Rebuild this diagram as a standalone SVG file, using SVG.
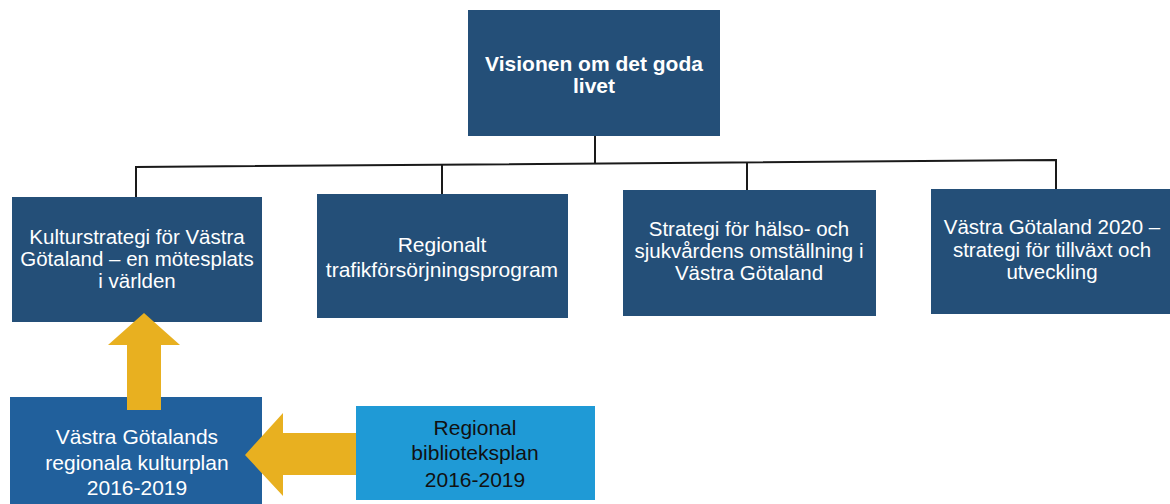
<svg xmlns="http://www.w3.org/2000/svg" width="1170" height="504" viewBox="0 0 1170 504">
<style>
.dark{fill:#244f78}
.mid{fill:#21609c}
.light{fill:#1f9ad6}
.arrow{fill:#e8b020}
.conn{stroke:#1a1a1a;stroke-width:2;fill:none}
text{font-family:"Liberation Sans",Arial,sans-serif;text-anchor:middle}
.w{fill:#ffffff;font-size:20.5px}
.b{fill:#ffffff;font-size:21px;font-weight:bold}
.k{fill:#111111;font-size:21px}
.w2{fill:#ffffff;font-size:21px}
</style>
<rect width="1170" height="504" fill="#ffffff"/>
<g id="connectors">
<polyline class="conn" points="136,197 136,167 1056,160 1056,189"/>
<line class="conn" x1="595" y1="136" x2="595" y2="163"/>
<line class="conn" x1="442" y1="165" x2="442" y2="194"/>
<line class="conn" x1="747" y1="162" x2="747" y2="190"/>
</g>
<g id="vision">
<rect class="dark" x="468" y="10" width="252" height="126"/>
<text class="b" x="594" y="71">Visionen om det goda</text>
<text class="b" x="594" y="93">livet</text>
</g>
<g id="kulturstrategi">
<rect class="dark" x="12" y="197" width="250" height="125"/>
<text class="w" x="137" y="244">Kulturstrategi för Västra</text>
<text class="w" x="137" y="266">Götaland – en mötesplats</text>
<text class="w" x="137" y="288">i världen</text>
</g>
<g id="trafik">
<rect class="dark" x="317" y="194" width="251" height="124"/>
<text class="w2" x="442" y="252">Regionalt</text>
<text class="w2" x="442" y="277">trafikförsörjningsprogram</text>
</g>
<g id="halso">
<rect class="dark" x="623" y="190" width="253" height="126"/>
<text class="w" x="749" y="236">Strategi för hälso- och</text>
<text class="w" x="749" y="258">sjukvårdens omställning i</text>
<text class="w" x="749" y="280">Västra Götaland</text>
</g>
<g id="vg2020">
<rect class="dark" x="931" y="189" width="239" height="125"/>
<text class="w" x="1052" y="234">Västra Götaland 2020 –</text>
<text class="w" x="1052" y="257">strategi för tillväxt och</text>
<text class="w" x="1052" y="279">utveckling</text>
</g>
<g id="kulturplan">
<rect class="mid" x="10" y="397" width="252" height="107"/>
<text class="w2" x="137" y="444">Västra Götalands</text>
<text class="w2" x="137" y="470">regionala kulturplan</text>
<text class="w2" x="137" y="495">2016-2019</text>
</g>
<g id="arrows">
<polygon class="arrow" points="144,313 180,345 161,345 161,410 127,410 127,345 108,345"/>
<polygon class="arrow" points="245,455 283,413 283,433 367,433 367,475 283,475 283,496"/>
</g>
<g id="biblioteksplan">
<rect class="light" x="356" y="406" width="239" height="94"/>
<text class="k" x="475" y="435">Regional</text>
<text class="k" x="475" y="460">biblioteksplan</text>
<text class="k" x="475" y="487">2016-2019</text>
</g>
</svg>
